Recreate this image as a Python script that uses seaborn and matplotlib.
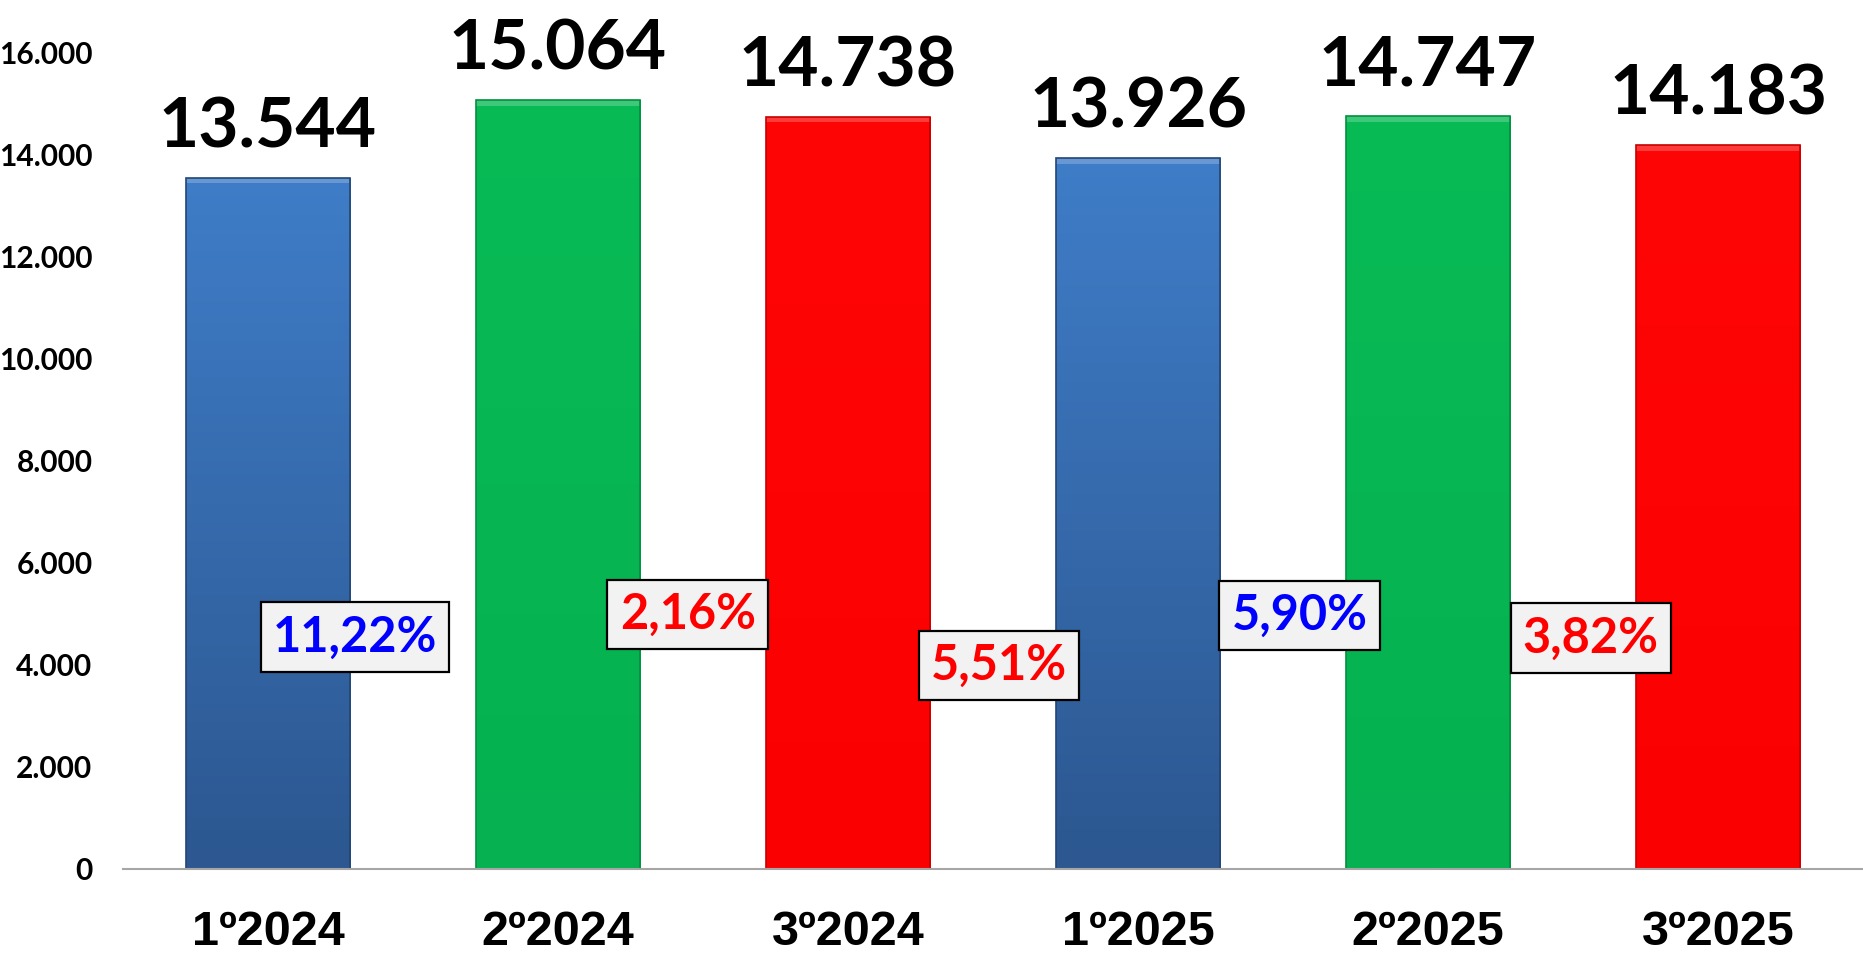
import numpy as np
import matplotlib
matplotlib.use("Agg")
import matplotlib.pyplot as plt
import matplotlib.colors as mcolors
import seaborn as sns

categories = ["1º2024", "2º2024", "3º2024", "1º2025", "2º2025", "3º2025"]
values = [13544, 15064, 14738, 13926, 14747, 14183]
value_labels = ["13.544", "15.064", "14.738", "13.926", "14.747", "14.183"]
pct_labels = ["11,22%", "2,16%", "5,51%", "5,90%", "3,82%"]
pct_colors = ["#0000ff", "#ff0000", "#ff0000", "#0000ff", "#ff0000"]
pct_pos_x = [0.30, 1.447, 2.52, 3.557, 4.561]
pct_pos_y = [4540, 4983, 3981, 4959, 4517]
yticks = [0, 2000, 4000, 6000, 8000, 10000, 12000, 14000, 16000]
ytick_labels = ["0", "2.000", "4.000", "6.000", "8.000", "10.000", "12.000", "14.000", "16.000"]

bar_colors = ["#3a72b8", "#06b853", "#fe0404", "#3a72b8", "#06b853", "#fe0404"]
grad = {"#3a72b8": ("#3f7dc8", "#2c5790"),
        "#06b853": ("#08bb55", "#05b150"),
        "#fe0404": ("#ff0606", "#fb0000")}

sns.set_theme(style="white")
plt.rcParams['font.family'] = ['Lato', 'DejaVu Sans']

fig = plt.figure(figsize=(18.63, 9.56), dpi=100)
ax = fig.add_axes([123 / 1863, 1 - 868.5 / 956, 1 - 123 / 1863, (868.5 - 52.3) / 956])

sns.barplot(x=categories, y=values, hue=categories, palette=bar_colors,
            legend=False, width=0.567, ax=ax, saturation=1, edgecolor="none")

ax.set_xlim(-0.5, 5.5)
ax.set_ylim(0, 16000)

# gradient fill clipped to each bar
for patch, c in zip(ax.patches, bar_colors):
    top, bot = grad[c]
    cmap = mcolors.LinearSegmentedColormap.from_list("g", [bot, top])
    x0, y0 = patch.get_x(), patch.get_y()
    w, h = patch.get_width(), patch.get_height()
    g = np.linspace(0, 1, 256).reshape(-1, 1)
    im = ax.imshow(g, cmap=cmap, aspect="auto", origin="lower",
                   extent=[x0, x0 + w, y0, y0 + h], zorder=patch.get_zorder() + 0.1)
    im.set_clip_path(patch)
    # bevel: light top strip and dark edges
    ax.add_patch(plt.Rectangle((x0, y0 + h - 110), w, 110, facecolor="white",
                               alpha=0.22, edgecolor="none", zorder=patch.get_zorder() + 0.2))
    ax.add_patch(plt.Rectangle((x0, y0), w, h, facecolor="none",
                               edgecolor=mcolors.to_hex(np.array(mcolors.to_rgb(bot)) * 0.8),
                               linewidth=1.2, zorder=patch.get_zorder() + 0.3))

ax.set_xticks(range(len(categories)))
ax.set_xticklabels(categories, fontsize=35, fontweight="bold", color="black",
                   family=["Liberation Sans", "DejaVu Sans"])
ax.set_yticks(yticks)
ax.set_yticklabels(ytick_labels, fontsize=21.5, fontweight="bold", color="black")
ax.tick_params(axis="x", length=0, pad=30)
ax.tick_params(axis="y", length=0, pad=22)

for s in ["top", "right", "left"]:
    ax.spines[s].set_visible(False)
ax.spines["bottom"].set_color("#a6a6a6")
ax.spines["bottom"].set_linewidth(1.5)
ax.spines["bottom"].set_zorder(10)

for i, (v, lab) in enumerate(zip(values, value_labels)):
    ax.annotate(lab, (i, v), xytext=(0, 22), textcoords="offset points",
                ha="center", va="baseline", fontsize=50, fontweight="bold",
                color="black", annotation_clip=False)

for x, y, lab, c in zip(pct_pos_x, pct_pos_y, pct_labels, pct_colors):
    ax.text(x, y, lab, ha="center", va="center", fontsize=35, fontweight="bold",
            color=c, zorder=20,
            bbox=dict(boxstyle="square,pad=0.25", facecolor="#f2f2f2",
                      edgecolor="black", linewidth=1.6))

fig.savefig("out.png", dpi=100)
